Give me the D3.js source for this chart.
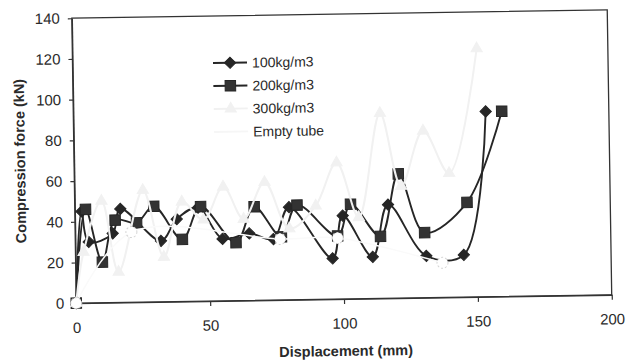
<!DOCTYPE html>
<html>
<head>
<meta charset="utf-8">
<script src="https://cdn.jsdelivr.net/npm/d3@7"></script>
<style>
body { margin: 0; background: #fff; }
text { font-family: "Liberation Sans", Arial, sans-serif; fill: #2a2a2a; }
</style>
</head>
<body>
<div id="chart"></div>
<script>
// values
var xTicks = [0, 50, 100, 150, 200];
var yTicks = [0, 20, 40, 60, 80, 100, 120, 140];
var seriesNames = ["100kg/m3", "200kg/m3", "300kg/m3", "Empty tube"];

var d100x = [0, 2.5, 5, 14, 17, 32, 38, 46, 55, 65, 74, 80, 96, 100, 111, 117, 131, 145, 154];
var d100y = [0, 45, 30, 34, 46, 30, 40.5, 46, 30.5, 33, 30, 45.5, 20, 41, 20.5, 46, 20.5, 20.7, 91];

var d200x = [0, 4, 10, 15, 23, 29.5, 40, 47, 60, 67, 77, 83, 98, 103, 114, 121, 130.5, 146.5, 160];
var d200y = [0, 46, 20, 40.5, 39, 47, 30.5, 46.5, 28.5, 46, 31, 46.5, 31, 46.5, 30.5, 61, 32, 46.5, 91];

var d300x = [0, 3, 10, 16, 25.5, 33, 40, 48, 55.5, 63, 71, 80, 90, 98, 106, 114.5, 122, 130.5, 140, 151];
var d300y = [0, 25, 50, 15, 55, 22, 49, 40, 56, 40, 58, 35, 46, 67, 40, 91, 55, 82, 61, 122];

var emptyX = [0, 21, 76.5, 98, 137];
var emptyY = [0, 34.5, 30, 30, 17];

var width = 627, height = 362;

var svg = d3.select("#chart").append("svg")
	.attr("width", width)
	.attr("height", height);

svg.append("rect").attr("width", width).attr("height", height).style("fill", "#fff");

// the scan is tilted a little, so everything sits in a rotated group
var page = svg.append("g").attr("transform", "rotate(-0.9,342,156)");

var x = d3.scaleLinear().domain([0, 200]).range([74, 609.5]);
var y = d3.scaleLinear().domain([0, 140]).range([299, 14]);

function pts(xs, ys) {
	return xs.map(function(d, i){ return [d, ys[i]]; });
}

// frame
page.append("rect")
	.attr("x", x(0)).attr("y", y(140))
	.attr("width", x(200) - x(0)).attr("height", y(0) - y(140))
	.style("fill", "none").style("stroke", "#333").style("stroke-width", 1.3);

var yAxis = page.append("g").attr("transform", "translate(" + x(0) + ",0)")
	.call(d3.axisLeft(y).tickValues(yTicks).tickSize(4).tickSizeOuter(0).tickPadding(8));
var xAxis = page.append("g").attr("transform", "translate(0," + y(0) + ")")
	.call(d3.axisBottom(x).tickValues(xTicks).tickSize(5).tickSizeOuter(0).tickPadding(14));

[yAxis, xAxis].forEach(function(a){
	a.select(".domain").style("stroke", "#333").style("stroke-width", 1.3);
	a.selectAll(".tick line").style("stroke", "#333").style("stroke-width", 1.2);
	a.selectAll(".tick text").style("font-size", "15px").style("fill", "#2a2a2a");
});

// axis titles
page.append("text")
	.attr("transform", "translate(25,156) rotate(-90)")
	.attr("text-anchor", "middle")
	.style("font-size", "14.5px").style("font-weight", "bold")
	.text("Compression force (kN)");

page.append("text")
	.attr("x", 343).attr("y", 356)
	.attr("text-anchor", "middle")
	.style("font-size", "14.5px").style("font-weight", "bold")
	.text("Displacement (mm)");

var line = d3.line()
	.x(function(d){ return x(d[0]); })
	.y(function(d){ return y(d[1]); })
	.curve(d3.curveCatmullRom.alpha(0.5));

var dark = "#262626";
var faint = "#f1f1f1";

// excel style diamond: a square turned 45 degrees
var diamond = d3.symbol().type(d3.symbolSquare).size(64);
var square = d3.symbol().type(d3.symbolSquare).size(110);
var triangle = d3.symbol().type(d3.symbolTriangle).size(55);
var circle = d3.symbol().type(d3.symbolCircle).size(95);

function drawSeries(data, color, lw, sym, rot, fill, stroke, dash) {
	var g = page.append("g");
	g.append("path").datum(data)
		.attr("d", line)
		.style("fill", "none").style("stroke", color).style("stroke-width", lw);
	g.selectAll("path.m").data(data).enter().append("path")
		.attr("class", "m")
		.attr("d", sym)
		.attr("transform", function(d){ return "translate(" + x(d[0]) + "," + y(d[1]) + ") rotate(" + rot + ")"; })
		.style("fill", fill).style("stroke", stroke).style("stroke-width", 1)
		.style("stroke-dasharray", dash);
}

// excel draws in series order, so the pale ones end up on top
drawSeries(pts(d100x, d100y), dark, 1.9, diamond, 45, dark, dark, null);
drawSeries(pts(d200x, d200y), dark, 1.9, square, 0, "#333", dark, null);
drawSeries(pts(d300x, d300y), faint, 2, triangle, 0, faint, faint, null);
drawSeries(pts(emptyX, emptyY), "#fafafa", 1.5, circle, 0, "#fff", "#d4d4d4", "2,2");

// legend
var legend = page.append("g");
var legendSyms = [diamond, square, triangle, null];
var legendRot = [45, 0, 0, 0];
var legendCols = [dark, dark, faint, "#f6f6f6"];
seriesNames.forEach(function(name, i){
	var ly = 61 + i * 23;
	legend.append("line")
		.attr("x1", 214.5).attr("x2", 248.5).attr("y1", ly).attr("y2", ly)
		.style("stroke", legendCols[i]).style("stroke-width", 1.8);
	if (legendSyms[i]) {
		legend.append("path").attr("d", legendSyms[i])
			.attr("transform", "translate(231.5," + ly + ") rotate(" + legendRot[i] + ")")
			.style("fill", i == 1 ? "#333" : legendCols[i]).style("stroke", legendCols[i]);
	}
	legend.append("text")
		.attr("x", 253.5).attr("y", ly + 5)
		.style("font-size", "14px")
		.text(name);
});
</script>
</body>
</html>
